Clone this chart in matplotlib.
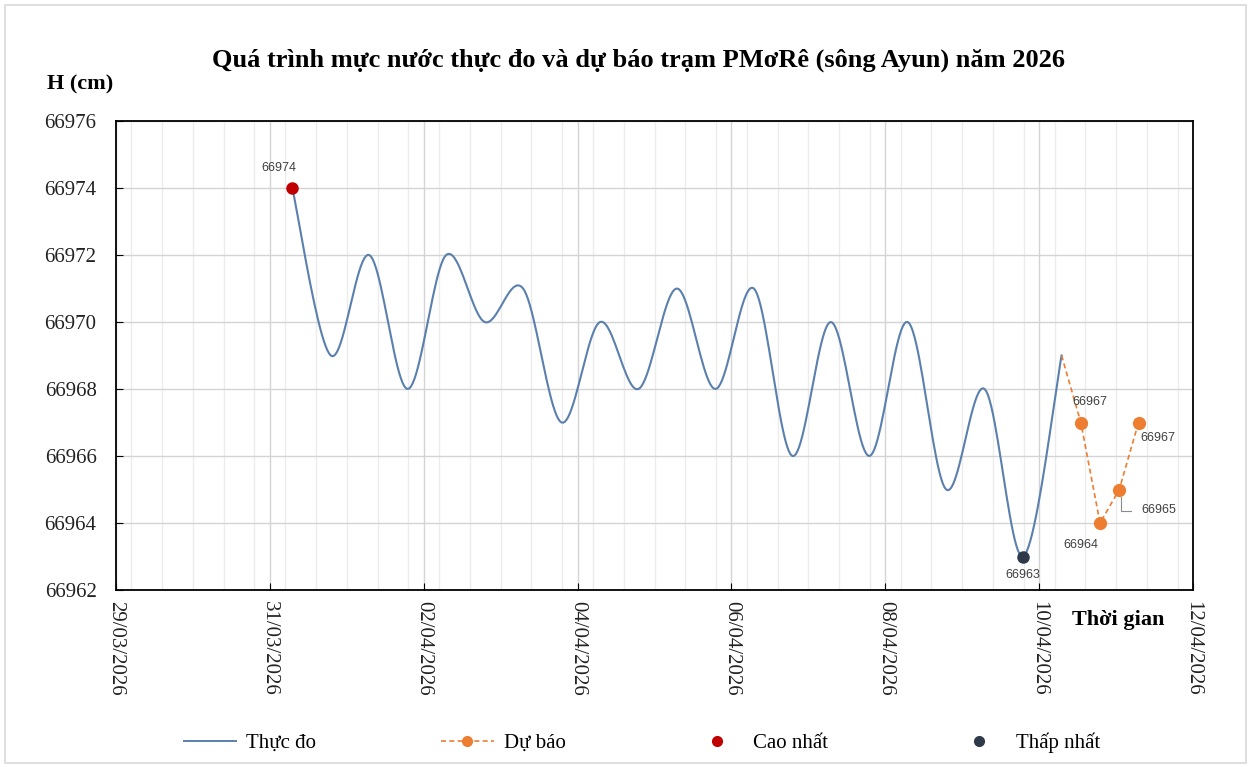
import matplotlib
matplotlib.use("Agg")
import matplotlib.pyplot as plt
import matplotlib.dates as mdates
from matplotlib.patches import Rectangle
from matplotlib.lines import Line2D
import numpy as np
from datetime import datetime, timedelta

# measured water level, every 12 h (07h / 19h)
start = datetime(2026, 3, 31, 7)
thuc_do = [66974, 66969, 66972, 66968, 66972, 66970, 66971, 66967, 66970, 66968,
           66971, 66968, 66971, 66966, 66970, 66966, 66970, 66965, 66968, 66963,
           66969]
t_thuc_do = [start + timedelta(hours=12 * i) for i in range(len(thuc_do))]

# forecast, every 6 h, starting from last measured point
du_bao = [66969, 66967, 66964, 66965, 66967]
t_du_bao = [datetime(2026, 4, 10, 7) + timedelta(hours=6 * i) for i in range(len(du_bao))]

x_min = datetime(2026, 3, 29)
x_max = datetime(2026, 4, 12)
y_min, y_max = 66962, 66976

blue = "#5b80ad"
orange = "#ed7d31"
red = "#c00000"
dark = "#2e3a4a"
serif = ["Liberation Serif", "DejaVu Serif"]


def catmull_rom(x, y, n=24):
    # smooth line like Excel's "smoothed line" option
    x = np.asarray(x, float)
    y = np.asarray(y, float)
    xs, ys = [], []
    for i in range(len(x) - 1):
        i0 = max(i - 1, 0)
        i3 = min(i + 2, len(x) - 1)
        p0 = np.array([x[i0], y[i0]])
        p1 = np.array([x[i], y[i]])
        p2 = np.array([x[i + 1], y[i + 1]])
        p3 = np.array([x[i3], y[i3]])
        c1 = p1 + (p2 - p0) / 6
        c2 = p2 - (p3 - p1) / 6
        t = np.linspace(0, 1, n)[:, None]
        b = ((1 - t) ** 3) * p1 + 3 * ((1 - t) ** 2) * t * c1 + 3 * (1 - t) * t ** 2 * c2 + t ** 3 * p2
        xs.extend(b[:, 0])
        ys.extend(b[:, 1])
    return np.array(xs), np.array(ys)


fig = plt.figure(figsize=(12.51, 7.67), dpi=100)
ax = fig.add_axes([116 / 1251, 1 - 590 / 767, (1193 - 116) / 1251, (590 - 121) / 767])

# outer chart border
fig.patches.append(Rectangle((5 / 1251, 4 / 767), 1241 / 1251, 758 / 767,
                             transform=fig.transFigure, fill=False,
                             edgecolor="#d9d9d9", linewidth=1.2))

xn = mdates.date2num(t_thuc_do)
sx, sy = catmull_rom(xn, thuc_do)
ax.plot(sx, sy, color=blue, linewidth=1.5, zorder=3)

ax.plot(t_du_bao, du_bao, color=orange, linestyle=(0, (3, 2)), linewidth=1.2,
        marker="o", markersize=8.5, markevery=[1, 2, 3, 4], zorder=3)

# highest / lowest
i_max = int(np.argmax(thuc_do))
i_min = int(np.argmin(thuc_do))
ax.plot(t_thuc_do[i_max], thuc_do[i_max], "o", color=red, markersize=8, zorder=4)
ax.plot(t_thuc_do[i_min], thuc_do[i_min], "o", color=dark, markersize=8, zorder=4)

lbl = dict(fontsize=9, color="#404040", family=["Liberation Sans", "DejaVu Sans"])


def label(txt, xy, dx, dy, ha="center"):
    ax.annotate(txt, xy, xytext=(dx, dy), textcoords="offset points",
                ha=ha, va="center", **lbl)


label(str(thuc_do[i_max]), (t_thuc_do[i_max], thuc_do[i_max]), -10, 14.5)
label(str(thuc_do[i_min]), (t_thuc_do[i_min], thuc_do[i_min]), 0, -13)
label(str(du_bao[1]), (t_du_bao[1], du_bao[1]), 6.5, 14.5)
label(str(du_bao[2]), (t_du_bao[2], du_bao[2]), -14, -16)
label(str(du_bao[3]), (t_du_bao[3], du_bao[3]), 16, -15, ha="left")
label(str(du_bao[4]), (t_du_bao[4], du_bao[4]), 14, -11)

# leader line for the 66965 label
x3 = mdates.date2num(t_du_bao[3])
ax.plot([x3 + 0.025, x3 + 0.025, x3 + 0.15],
        [du_bao[3] - 0.22, du_bao[3] - 0.63, du_bao[3] - 0.63],
        color="#8c8c8c", linewidth=0.8, zorder=2)

ax.set_xlim(x_min, x_max)
ax.set_ylim(y_min, y_max)
ax.xaxis.set_major_locator(mdates.DayLocator(interval=2))
ax.xaxis.set_major_formatter(mdates.DateFormatter("%d/%m/%Y"))
ax.xaxis.set_minor_locator(matplotlib.ticker.MultipleLocator(0.4))
ax.set_yticks(np.arange(y_min, y_max + 1, 2))
ax.yaxis.set_major_formatter(matplotlib.ticker.FormatStrFormatter("%d"))

ax.grid(which="major", axis="both", color="#d4d4d4", linewidth=1.0, zorder=0)
ax.grid(which="minor", axis="x", color="#ececec", linewidth=1.0, zorder=0)
ax.set_axisbelow(True)

ax.tick_params(axis="x", which="major", direction="in", length=5, pad=8, labelsize=15,
               labelrotation=-90)
ax.tick_params(axis="x", which="minor", length=0)
ax.tick_params(axis="y", direction="in", length=5, pad=14, labelsize=15)
for t in ax.get_xticklabels() + ax.get_yticklabels():
    t.set_family(serif)
    t.set_color("#222222")
for t in ax.get_xticklabels():
    t.set_va("top")
    t.set_ha("center")
for s in ax.spines.values():
    s.set_color("#000000")
    s.set_linewidth(1.3)

fig.text(639 / 1251, 1 - 60 / 767,
         "Quá trình mực nước thực đo và dự báo trạm PMơRê (sông Ayun) năm 2026",
         ha="center", va="center", fontsize=19, weight="bold", family=serif)
fig.text(47 / 1251, 1 - 84 / 767, "H (cm)", ha="left", va="center",
         fontsize=16, weight="bold", family=serif)
fig.text(1118 / 1251, 1 - 620 / 767, "Thời gian", ha="center", va="center",
         fontsize=16, weight="bold", family=serif)

handles = [
    Line2D([], [], color=blue, linewidth=1.4),
    Line2D([], [], color=orange, linestyle=(0, (3, 2)), linewidth=1.2, marker="o", markersize=7),
    Line2D([], [], color=red, linestyle="none", marker="o", markersize=7),
    Line2D([], [], color=dark, linestyle="none", marker="o", markersize=7),
]
names = ["Thực đo", "Dự báo", "Cao nhất", "Thấp nhất"]
fig.legend(handles, names, loc="center", bbox_to_anchor=(642 / 1251, 1 - 743 / 767),
           ncol=4, frameon=False, columnspacing=6.0, handlelength=2.5, handletextpad=0.5,
           prop={"family": serif, "size": 15})

fig.savefig("out.png", dpi=100)
